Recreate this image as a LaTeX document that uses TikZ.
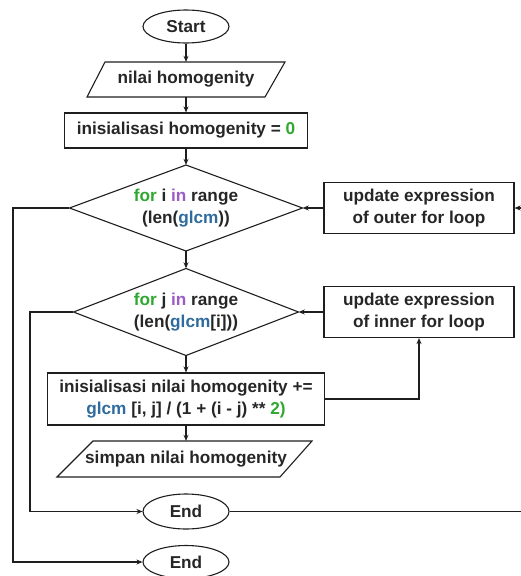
\documentclass[tikz,border=0pt]{standalone}
\usepackage{fontspec}
\setmainfont{Liberation Sans}
\usetikzlibrary{shapes.geometric,arrows.meta}
\definecolor{ink}{HTML}{1E1E1E}
\definecolor{txt}{HTML}{262626}
\definecolor{kwgreen}{HTML}{2EA82E}
\definecolor{kwpurple}{HTML}{9A5CC6}
\definecolor{varblue}{HTML}{2F6B9E}
\newcommand{\kw}[1]{\textcolor{kwgreen}{#1}}
\newcommand{\op}[1]{\textcolor{kwpurple}{#1}}
\newcommand{\var}[1]{\textcolor{varblue}{#1}}
\begin{document}
\begin{tikzpicture}[x=1pt,y=-1pt,
  every node/.style={font=\fontsize{17.2}{22}\selectfont\bfseries, text=txt, inner sep=0pt, align=center},
  terminal/.style={ellipse, draw=ink, line width=1.1pt, minimum width=86, minimum height=33},
  procbox/.style={rectangle, draw=ink, line width=1.1pt},
  iobox/.style={rectangle, minimum height=36},
  decbox/.style={rectangle},
  flow/.style={draw=ink, line width=1.1pt},
  arr/.style={flow, -{Stealth[length=6pt,width=5pt]}}
]
\useasboundingbox (0,0) rectangle (520,576);

% main column
\node[terminal] (start) at (186,26.5) {Start};

\node[iobox, minimum height=35] (in1) at (186,79.5) {nilai homogenity};
\draw[flow, shift={(in1.center)}] (-99,17.5) -- (79,17.5) -- (99,-17.5) -- (-81,-17.5) -- cycle;

\node[procbox, minimum width=243, minimum height=35] (init) at (186,130.5)
  {inisialisasi homogenity = \kw{0}};

\node[decbox, minimum width=233, minimum height=86] (d1) at (186,208)
  {\kw{for} i \op{in} range\\(len(\var{glcm}))};
\draw[flow, shift={(d1.center)}] (-116.5,0) -- (0,-43) -- (116.5,0) -- (0,43) -- cycle;

\node[decbox, minimum width=225, minimum height=87] (d2) at (186,312)
  {\kw{for} j \op{in} range\\(len(\var{glcm}[i]))};
\draw[flow, shift={(d2.center)}] (-112.5,0) -- (0,-43.5) -- (112.5,0) -- (0,43.5) -- cycle;

\node[procbox, minimum width=277, minimum height=52] (calc) at (186,399)
  {inisialisasi nilai homogenity +=\\\var{glcm} [i, j] / (1 + (i - j) ** \kw{2)}};

\node[iobox] (out1) at (186,459) {simpan nilai homogenity};
\draw[flow, shift={(out1.center)}] (-129,18) -- (94,18) -- (126,-18) -- (-93,-18) -- cycle;

\node[terminal, minimum height=35] (end1) at (186,511.5) {End};
\node[terminal] (end2) at (186,562) {End};

% loop update boxes
\node[procbox, minimum width=190, minimum height=51] (upo) at (419,208)
  {update expression\\of outer for loop};
\node[procbox, minimum width=190, minimum height=51] (upi) at (419,312)
  {update expression\\of inner for loop};

% routing columns (the right one runs just past the page edge)
\coordinate (outerx) at (13,0);
\coordinate (innerx) at (30,0);
\coordinate (rightx) at (523,0);

% straight flow
\draw[arr] (start) -- (in1);
\draw[arr] (in1) -- (init);
\draw[arr] (init) -- (d1);
\draw[arr] (d1) -- (d2);
\draw[arr] (d2) -- (calc);
\draw[arr] (calc) -- (out1);

% loop back edges
\draw[arr] (upo.west) -- (d1.east);
\draw[arr] (upi.west) -- (d2.east);
\draw[arr] (calc.east) -| (upi.south);
\draw[arr] (end1.east) -- (end1.east -| rightx) |- (upo.east);

% loop exits
\draw[arr] (d1.west) -- (d1.west -| outerx) |- (end2.west);
\draw[arr] (d2.west) -- (d2.west -| innerx) |- (end1.west);
\end{tikzpicture}
\end{document}
